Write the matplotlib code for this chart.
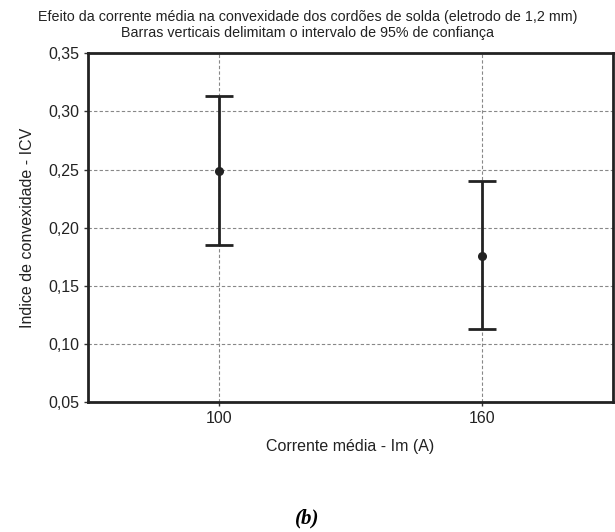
import matplotlib.pyplot as plt
import numpy as np

categorias = ['100', '160']
medias = [0.249, 0.176]
limite_sup = [0.313, 0.240]
limite_inf = [0.185, 0.113]
yticks = [0.05, 0.10, 0.15, 0.20, 0.25, 0.30, 0.35]

plt.rcParams['font.family'] = ['Liberation Sans', 'DejaVu Sans']

fig = plt.figure(figsize=(6.15, 5.32), dpi=100)
ax = fig.add_axes([0.143, 0.244, 0.854, 0.656])

x = np.arange(len(categorias))
med = np.array(medias)
err = [med - np.array(limite_inf), np.array(limite_sup) - med]
ax.errorbar(x, med, yerr=err, fmt='o', color='#222222', ms=5.5, elinewidth=2,
            capsize=10, capthick=2, zorder=3)

ax.set_xlim(-0.5, 1.5)
ax.set_ylim(0.05, 0.35)
ax.set_xticks(x)
ax.set_xticklabels(categorias)
ax.set_yticks(yticks)
ax.set_yticklabels([f'{v:.2f}'.replace('.', ',') for v in yticks])
ax.tick_params(labelsize=11.5, length=3, width=1, color='#333333', labelcolor='#222222')
ax.grid(True, color='#888888', linestyle=(0, (3, 2)), linewidth=0.8)
ax.set_axisbelow(True)
for s in ax.spines.values():
    s.set_linewidth(2)
    s.set_color('#222222')

ax.set_xlabel('Corrente média - Im (A)', fontsize=11.5, color='#222222', labelpad=9)
ax.set_ylabel('Indice de convexidade - ICV', fontsize=11.5, color='#222222', labelpad=9)
fig.text(0.5, 0.982, 'Efeito da corrente média na convexidade dos cordões de solda (eletrodo de 1,2 mm)\n'
         'Barras verticais delimitam o intervalo de 95% de confiança',
         ha='center', va='top', fontsize=10.3, color='#222222', linespacing=1.2)
fig.text(0.5, 0.007, '(b)', ha='center', va='bottom', fontsize=15,
         family='Liberation Serif', weight='bold', style='italic')

plt.savefig('out.png', dpi=100)
